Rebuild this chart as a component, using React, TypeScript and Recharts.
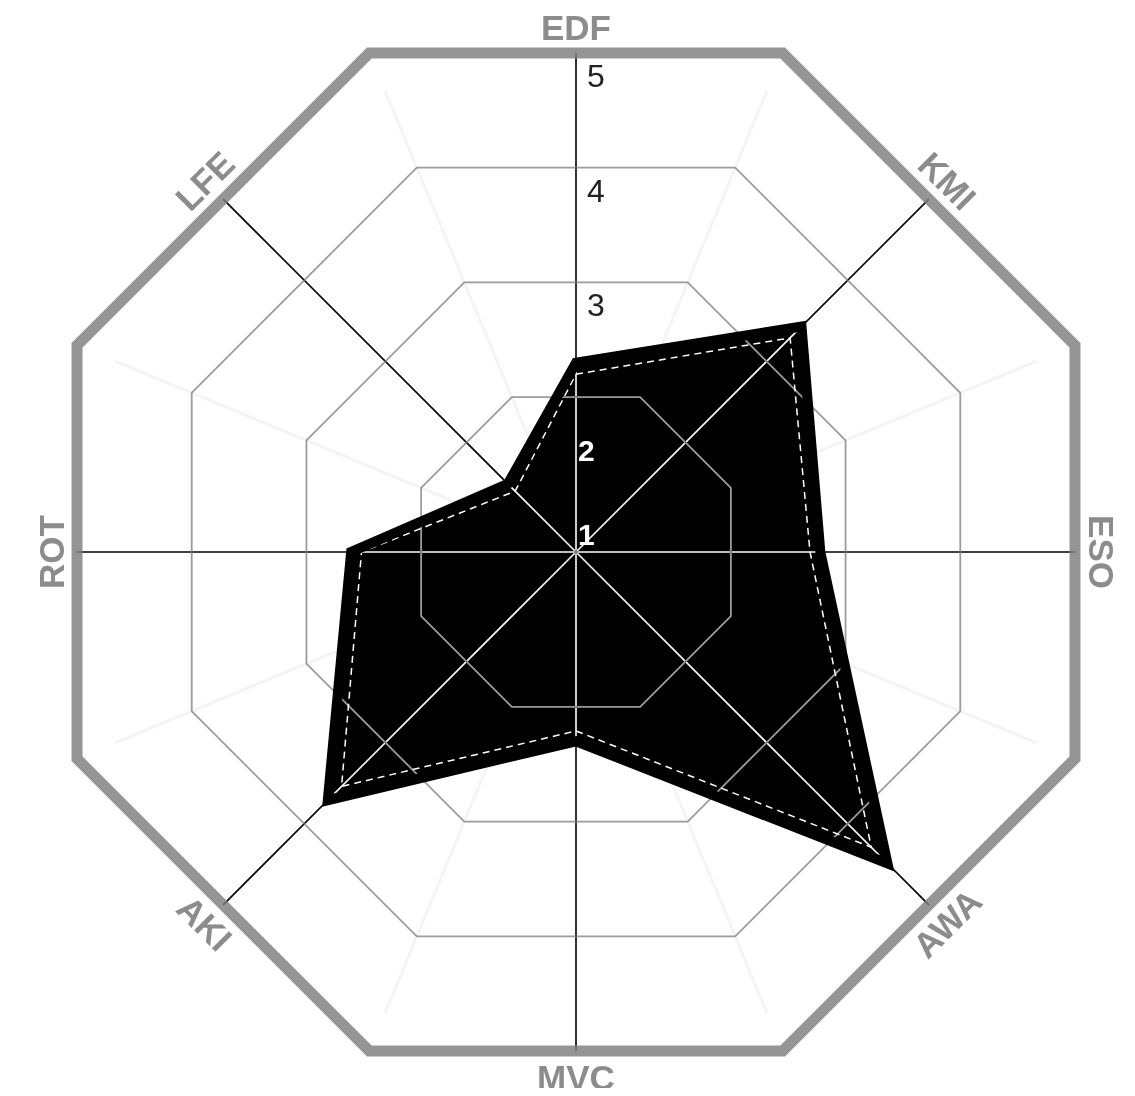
import { RadarChart, Radar, PolarGrid, PolarAngleAxis, PolarRadiusAxis } from 'recharts';

// axes run clockwise from the top
const AXES = ['EDF', 'KMI', 'ESO', 'AWA', 'MVC', 'AKI', 'ROT', 'LFE'];
const SCORE = [2.3, 3.43, 2.78, 4.49, 2.3, 3.71, 2.61, 1.49];
const SCORE_INNER = [2.2, 3.29, 2.69, 4.29, 2.21, 3.54, 2.52, 1.4];
const RADIUS_TICKS = [1, 2, 3, 4, 5];
const RING_VALUES = [2, 3, 4, 5];
const RADIUS_MIN = 0.65;
const RADIUS_MAX = 5;

const W = 1119;
const H = 1080;
const CX = 568;
const CY = 544;
const OUTER_R = 499;

const rows = AXES.map((axis, i) => ({ axis, score: SCORE[i], inner: SCORE_INNER[i] }));

// the rings are octagons turned half a step, their edges cross the axes at the value
const HALF_STEP = 180 / AXES.length;
const offsetAngles = AXES.map((_, i) => 90 - i * (360 / AXES.length) + HALF_STEP);
const ringRadius = (v: number) =>
  (OUTER_R * (v - RADIUS_MIN)) / (RADIUS_MAX - RADIUS_MIN) / Math.cos((HALF_STEP * Math.PI) / 180);
const innerRings = RING_VALUES.map(ringRadius);
const outerRing = [ringRadius(RADIUS_MAX)];

const FONT = "'Liberation Sans', Arial, sans-serif";

function AngleTick(props: any) {
  const { x, y, payload } = props;
  let rot = (((90 - payload.coordinate) % 360) + 360) % 360;
  if (rot > 90 && rot < 270) rot -= 180;
  return (
    <text
      x={x}
      y={y}
      transform={`rotate(${rot} ${x} ${y})`}
      textAnchor="middle"
      dominantBaseline="central"
      fill="#8c8c8c"
      fontSize={35}
      fontWeight="bold"
      fontFamily={FONT}
    >
      {payload.value}
    </text>
  );
}

function RadiusTick(props: any) {
  const { x, y, payload } = props;
  const v = payload.value;
  const inside = v <= 2;
  return (
    <text
      x={x + (inside ? 2 : 11)}
      y={y + (v === 2 ? 53 : 23)}
      textAnchor="start"
      dominantBaseline="central"
      fill={inside ? '#fff' : '#222'}
      fontSize={inside ? 30 : 32}
      fontWeight={inside ? 'bold' : 'normal'}
      fontFamily={FONT}
    >
      {v}
    </text>
  );
}

export default function App() {
  return (
    <div style={{ width: W, height: H, background: '#fff' }}>
      <style>{`
        .recharts-surface { overflow: visible; }
        .recharts-polar-grid-angle line[stroke="#ffffff"] { mix-blend-mode: difference; }
      `}</style>
      <RadarChart
        width={W}
        height={H}
        data={rows}
        cx={CX}
        cy={CY}
        outerRadius={OUTER_R}
        margin={{ top: 0, right: 0, bottom: 0, left: 0 }}
      >
        {/* faint spokes to the ring corners */}
        <PolarGrid
          zIndex={-400}
          polarAngles={offsetAngles}
          polarRadius={[]}
          stroke="#f4f4f4"
          strokeWidth={3}
        />
        <Radar
          zIndex={-300}
          dataKey="score"
          fill="#000"
          fillOpacity={1}
          stroke="none"
          isAnimationActive={false}
        />
        <PolarGrid
          zIndex={-200}
          gridType="polygon"
          polarAngles={offsetAngles}
          polarRadius={innerRings}
          radialLines={false}
          stroke="#9c9c9c"
          strokeWidth={1.8}
        />
        <PolarGrid
          zIndex={-190}
          gridType="polygon"
          polarAngles={offsetAngles}
          polarRadius={outerRing}
          radialLines={false}
          stroke="#959595"
          strokeWidth={11}
        />
        {/* axis spokes: black on white, light inside the filled area */}
        <PolarGrid
          zIndex={-150}
          polarRadius={[]}
          stroke="#ffffff"
          strokeWidth={1.6}
          style={{ mixBlendMode: 'difference' }}
        />
        <PolarAngleAxis
          dataKey="axis"
          tick={AngleTick}
          tickSize={26}
          tickLine={false}
          axisLine={false}
        />
        <PolarRadiusAxis
          angle={90}
          domain={[RADIUS_MIN, RADIUS_MAX]}
          ticks={RADIUS_TICKS}
          tick={RadiusTick}
          axisLine={false}
          tickLine={false}
        />
        <Radar
          zIndex={100}
          dataKey="inner"
          fill="none"
          stroke="#fff"
          strokeWidth={1.5}
          strokeDasharray="7 5"
          isAnimationActive={false}
        />
        <Radar
          zIndex={110}
          dataKey="score"
          fill="none"
          stroke="#000"
          strokeWidth={10}
          strokeLinejoin="miter"
          strokeMiterlimit={10}
          isAnimationActive={false}
        />
      </RadarChart>
    </div>
  );
}
